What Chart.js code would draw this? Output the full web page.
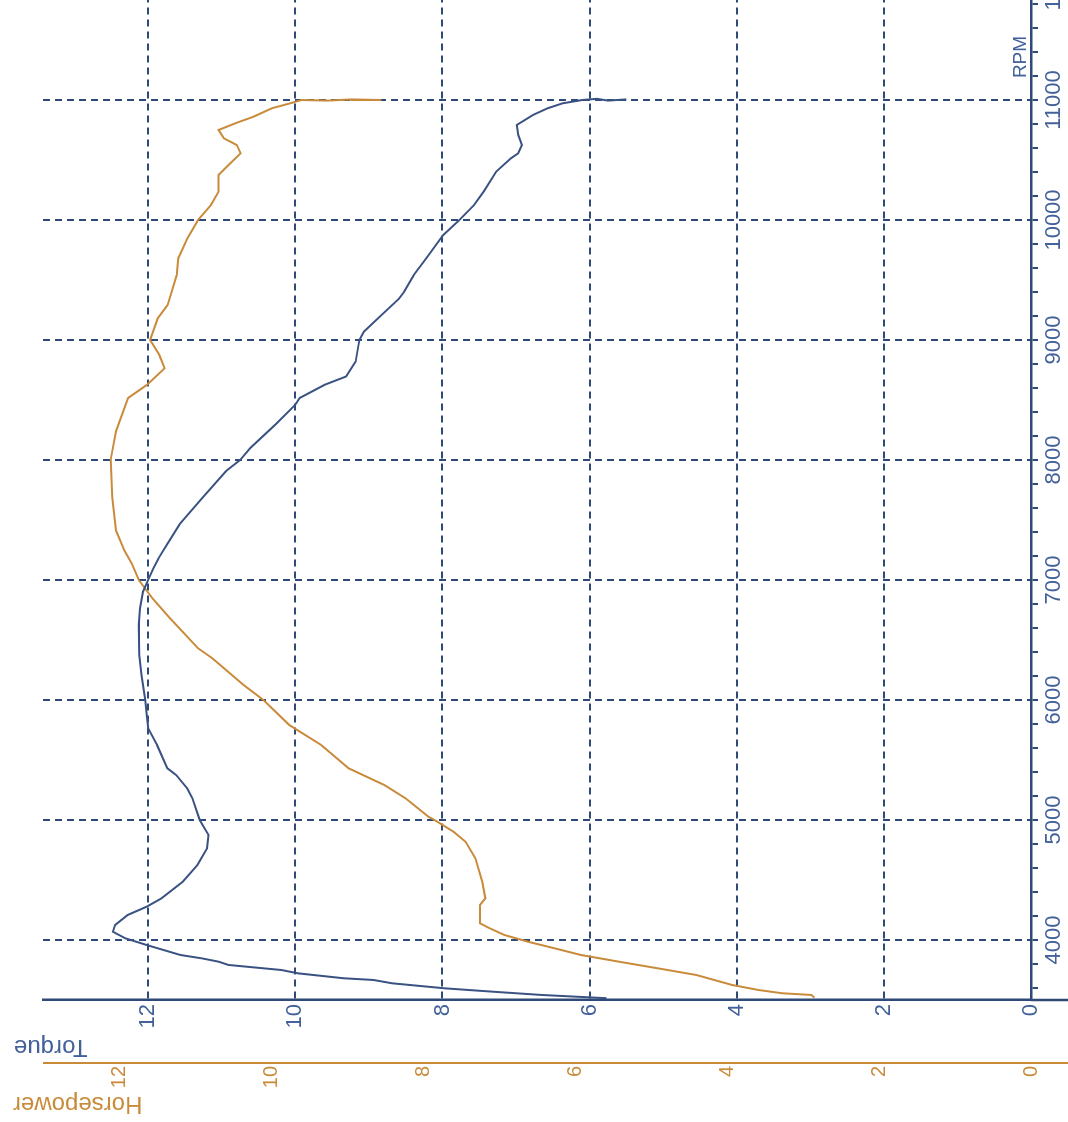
<!DOCTYPE html>
<html>
<head>
<meta charset="utf-8">
<title>Dyno run</title>
<script src="https://cdn.jsdelivr.net/npm/chart.js@4.4.1/dist/chart.umd.min.js"></script>
<style>
  html, body { margin: 0; padding: 0; background: #fff; overflow: hidden; width: 1068px; height: 1122px; }
  /* the sheet is drawn upright and then turned a quarter turn, like the scanned printout */
  #sheet { position: absolute; left: 0; top: 0; width: 1180px; height: 1068px;
           transform-origin: 0 0; transform: translate(0, 1122px) rotate(-90deg); }
</style>
</head>
<body>
<div id="sheet"><canvas id="dyno" width="1180" height="1068"></canvas></div>
<script>
const BLUE = '#3a5282';
const AXIS_BLUE = '#2f4a78';
const LABEL_BLUE = '#42609a';
const ORANGE = '#c98a3a';

// torque trace (rpm, torque) in the order it was logged
const torqueRpm = [3515, 3542, 3569, 3597, 3639, 3667, 3681, 3722, 3750, 3792, 3819, 3847, 3875, 3958,
  4014, 4069, 4125, 4208, 4278, 4347, 4486, 4625, 4764, 4875, 5000, 5181, 5264, 5375, 5431, 5625,
  5764, 5875, 6000, 6208, 6375, 6625, 6764, 6903, 7000, 7097, 7181, 7301, 7467, 7688, 7909, 8000,
  8102, 8296, 8461, 8517, 8627, 8696, 8820, 9000, 9069, 9207, 9345, 9403, 9542, 9681, 9875, 10000,
  10125, 10236, 10403, 10514, 10556, 10625, 10708, 10792, 10875, 10931, 10972, 11000, 11010, 10995, 11005];
const torqueVals = [5.77, 6.65, 7.31, 7.96, 8.68, 8.94, 9.34, 9.96, 10.19, 10.91, 11.04, 11.27, 11.56, 12.02,
  12.31, 12.48, 12.45, 12.28, 12.02, 11.82, 11.53, 11.33, 11.20, 11.18, 11.30, 11.40, 11.47, 11.62, 11.74, 11.88,
  12.00, 12.02, 12.04, 12.09, 12.12, 12.13, 12.11, 12.07, 12.00, 11.93, 11.86, 11.74, 11.57, 11.26, 10.94, 10.75,
  10.61, 10.27, 10.00, 9.94, 9.60, 9.31, 9.18, 9.13, 9.07, 8.83, 8.59, 8.52, 8.39, 8.22, 7.99, 7.77,
  7.57, 7.44, 7.27, 7.07, 6.97, 6.92, 6.97, 6.99, 6.77, 6.57, 6.37, 6.10, 5.90, 5.75, 5.50];

// horsepower trace (rpm, hp)
const hpRpm = [3520, 3542, 3556, 3583, 3625, 3708, 3764, 3819, 3875, 3931, 3986, 4042, 4097, 4139, 4292,
  4347, 4486, 4681, 4819, 4903, 5000, 5028, 5181, 5292, 5431, 5625, 5792, 6000, 6125, 6347, 6431,
  6681, 6847, 7000, 7135, 7246, 7412, 7688, 8000, 8240, 8517, 8627, 8765, 8876, 9000, 9180, 9292,
  9542, 9681, 9847, 10000, 10125, 10236, 10375, 10458, 10556, 10625, 10681, 10750, 10806, 10861, 10931,
  10972, 11000, 10995, 11005, 11000];
const hpVals = [2.85, 2.89, 3.27, 3.58, 3.93, 4.40, 4.91, 5.42, 5.92, 6.27, 6.62, 6.93, 7.12, 7.25, 7.25,
  7.18, 7.22, 7.31, 7.44, 7.60, 7.85, 7.93, 8.23, 8.51, 8.98, 9.34, 9.76, 10.10, 10.36, 10.77, 10.96,
  11.33, 11.56, 11.74, 11.83, 11.93, 12.04, 12.09, 12.11, 12.04, 11.88, 11.63, 11.40, 11.47, 11.59, 11.49, 11.36,
  11.24, 11.22, 11.10, 10.96, 10.79, 10.69, 10.69, 10.56, 10.40, 10.45, 10.62, 10.69, 10.47, 10.23, 9.99,
  9.75, 9.60, 9.25, 8.95, 8.55];

const rpmMin = 3500, rpmMax = 12000, rpmMinor = 200, rpmMajor = 1000;
const torqueMax = 13.43, hpMax = 13.0, valueStep = 2;

Chart.defaults.font.family = '"Liberation Sans", Arial, sans-serif';

function toPoints(xs, ys) {
  return xs.map((x, i) => ({ x: x, y: ys[i] }));
}

// axis titles the way the dyno software prints them, plus axis lines running past the corner
const axisExtras = {
  id: 'axisExtras',
  afterDraw(chart) {
    const { ctx, chartArea } = chart;
    const tq = chart.scales.torque, hp = chart.scales.hp;
    ctx.save();
    ctx.lineWidth = 2.5;
    ctx.strokeStyle = AXIS_BLUE;
    ctx.beginPath();
    ctx.moveTo(tq.right, chartArea.bottom);
    ctx.lineTo(tq.right, chart.height);
    ctx.stroke();
    ctx.strokeStyle = ORANGE;
    ctx.lineWidth = 2;
    ctx.beginPath();
    ctx.moveTo(hp.right - 1, chartArea.top);
    ctx.lineTo(hp.right - 1, chart.height);
    ctx.stroke();

    ctx.textBaseline = 'alphabetic';
    ctx.textAlign = 'right';
    ctx.font = '24px "Liberation Sans", Arial, sans-serif';
    ctx.fillStyle = LABEL_BLUE;
    ctx.save();
    ctx.translate(tq.left + 22, chartArea.top - 29);
    ctx.rotate(-Math.PI / 2);
    ctx.fillText('Torque', 0, 0);
    ctx.restore();
    ctx.fillStyle = ORANGE;
    ctx.save();
    ctx.translate(hp.left + 25, chartArea.top - 30);
    ctx.rotate(-Math.PI / 2);
    ctx.fillText('Horsepower', 0, 0);
    ctx.restore();

    ctx.font = '19px "Liberation Sans", Arial, sans-serif';
    ctx.fillStyle = LABEL_BLUE;
    ctx.textAlign = 'center';
    ctx.fillText('RPM', chartArea.right - 77, chartArea.bottom - 5);
    ctx.restore();
  }
};

new Chart(document.getElementById('dyno'), {
  type: 'scatter',
  data: {
    datasets: [{
      label: 'Torque',
      data: toPoints(torqueRpm, torqueVals),
      yAxisID: 'torque',
      showLine: true,
      borderColor: BLUE,
      borderWidth: 2,
      pointRadius: 0,
      tension: 0
    }, {
      label: 'Horsepower',
      data: toPoints(hpRpm, hpVals),
      yAxisID: 'hp',
      showLine: true,
      borderColor: ORANGE,
      borderWidth: 2,
      pointRadius: 0,
      tension: 0
    }]
  },
  options: {
    responsive: false,
    animation: false,
    layout: { padding: { top: 43, right: 38, left: 0, bottom: 0 } },
    plugins: { legend: { display: false }, tooltip: { enabled: false } },
    scales: {
      x: {
        type: 'linear',
        position: 'bottom',
        min: rpmMin,
        max: rpmMax,
        afterFit: (s) => { s.height = 37; },
        ticks: {
          stepSize: rpmMinor,
          includeBounds: false,
          autoSkip: false,
          minRotation: 0,
          maxRotation: 0,
          padding: 3,
          color: LABEL_BLUE,
          font: { size: 22 },
          callback: (v) => (v % rpmMajor === 0 ? String(v) : '')
        },
        grid: {
          lineWidth: 2,
          color: (c) => (c.tick && c.tick.value % rpmMajor === 0 ? AXIS_BLUE : 'rgba(0,0,0,0)'),
          tickColor: AXIS_BLUE,
          tickWidth: 2,
          tickLength: 7
        },
        border: { display: true, color: AXIS_BLUE, width: 2.5, dash: [7, 5] }
      },
      torque: {
        type: 'linear',
        position: 'left',
        weight: 0,
        min: 0,
        max: torqueMax,
        afterFit: (s) => { s.width = 62; },
        ticks: {
          stepSize: valueStep,
          includeBounds: false,
          padding: 4,
          color: LABEL_BLUE,
          font: { size: 22 }
        },
        grid: {
          lineWidth: 2,
          drawTicks: false,
          color: (c) => (c.tick && c.tick.value === 0 ? 'rgba(0,0,0,0)' : AXIS_BLUE)
        },
        border: { display: true, color: AXIS_BLUE, width: 2.5, dash: [7, 5] }
      },
      hp: {
        type: 'linear',
        position: 'left',
        weight: 10,
        min: 0,
        max: hpMax,
        afterFit: (s) => { s.width = 60; },
        ticks: {
          stepSize: valueStep,
          includeBounds: false,
          padding: 4,
          color: ORANGE,
          font: { size: 20 }
        },
        grid: { display: false, drawTicks: false, drawOnChartArea: false },
        border: { display: false }
      }
    }
  },
  plugins: [axisExtras]
});
</script>
</body>
</html>
